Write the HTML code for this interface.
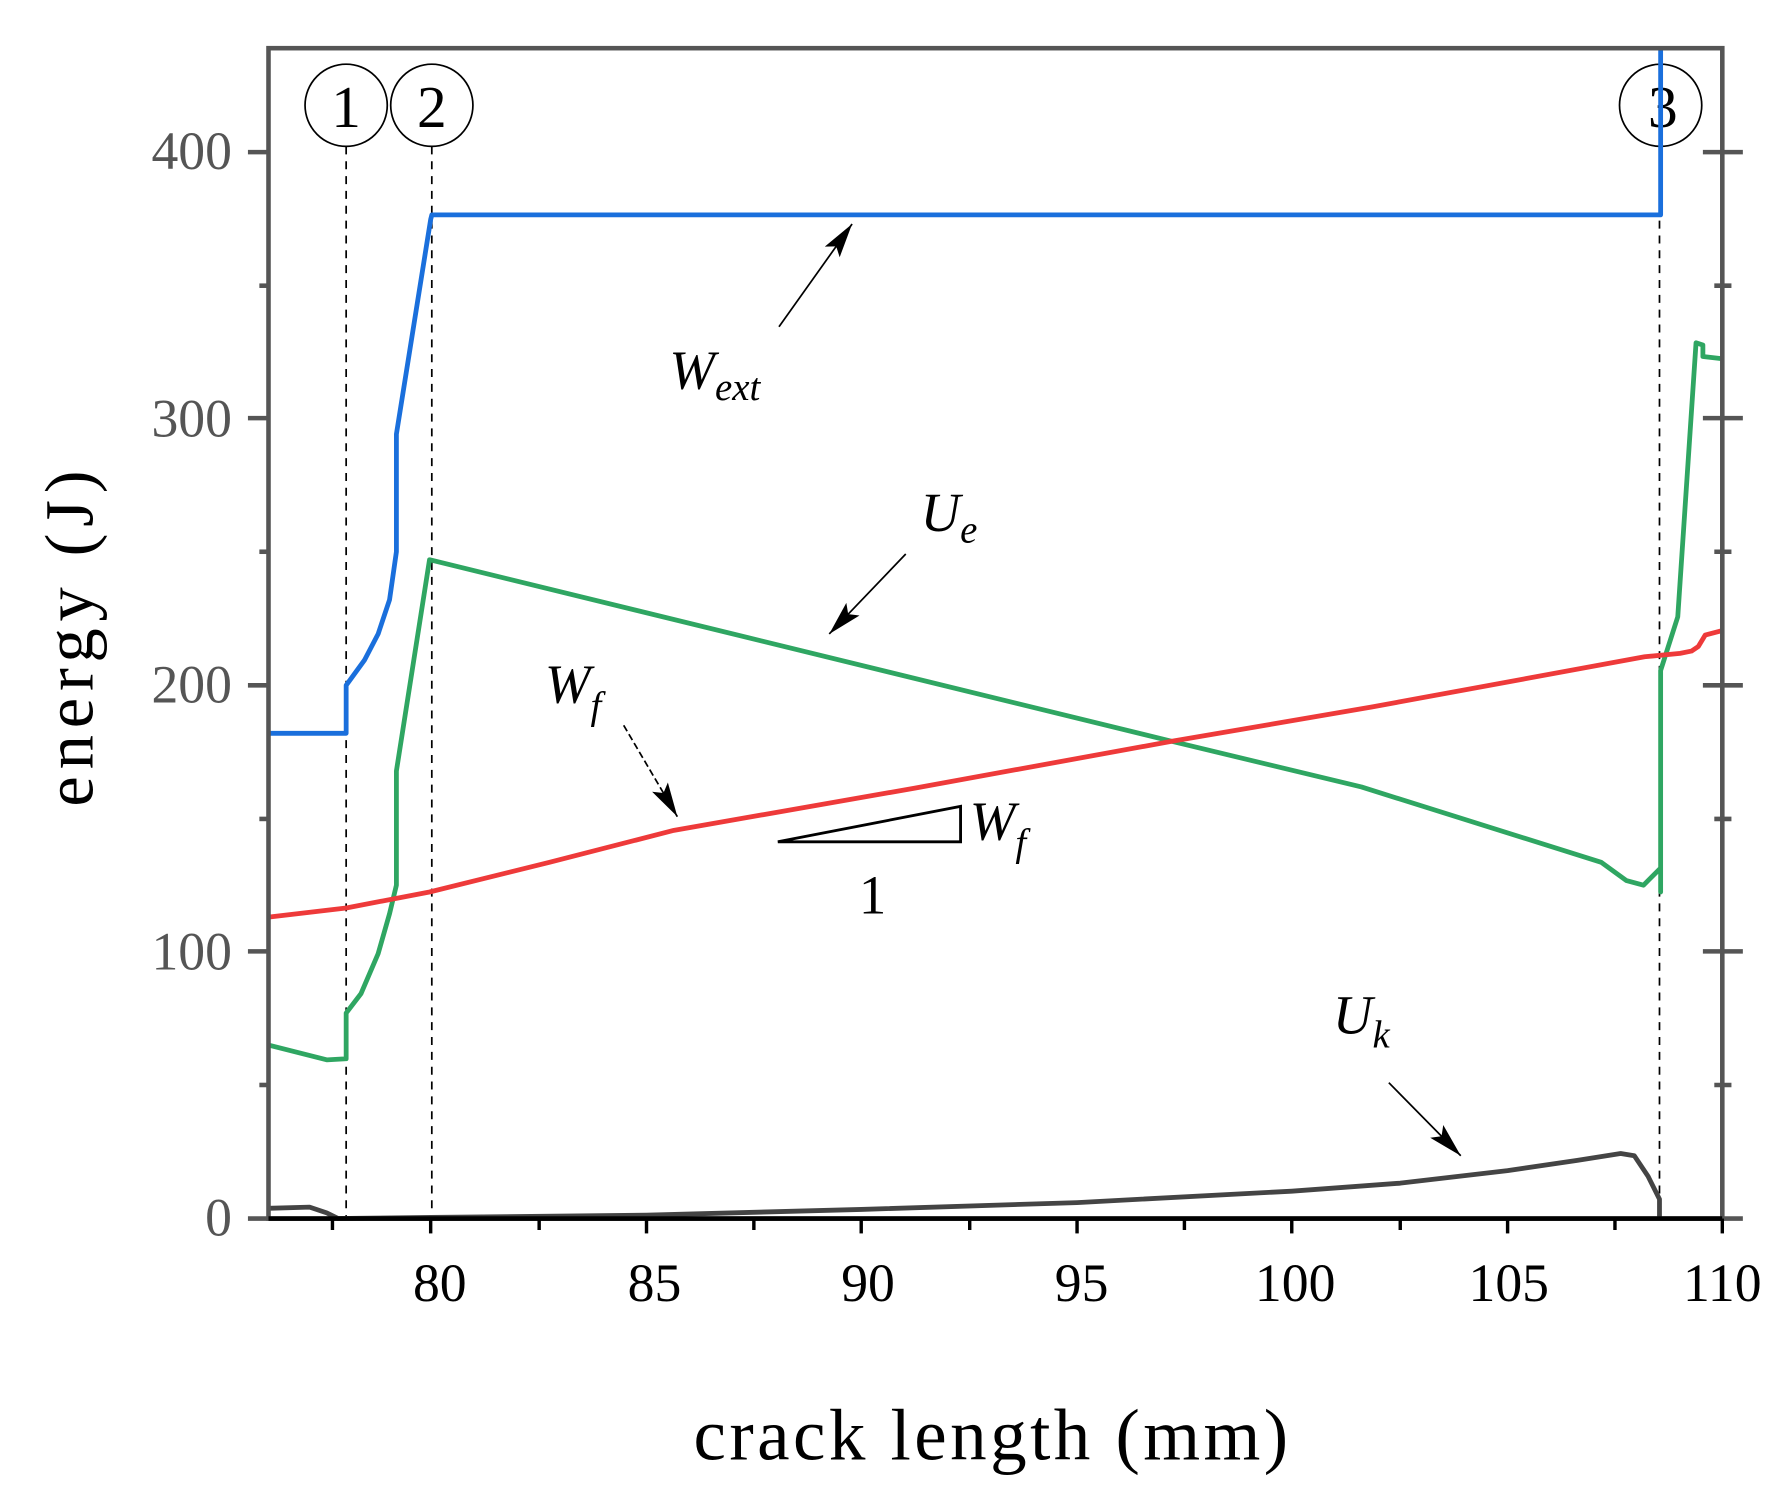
<!DOCTYPE html>
<html><head><meta charset="utf-8"><style>
html,body{margin:0;padding:0;background:#fff;}
svg{display:block;}
text{font-family:"Liberation Serif",serif;}
</style></head><body>
<svg width="1790" height="1502" viewBox="0 0 1560 1309" xmlns="http://www.w3.org/2000/svg">
<defs>
<marker id="ah2" viewBox="0 0 30 20" refX="30" refY="10" markerWidth="30" markerHeight="20" markerUnits="userSpaceOnUse" orient="auto">
<path d="M0,2 L30,10 L0,18 L6,10 z" fill="#000"/></marker>
</defs>
<g transform="translate(1.1,0.2) scale(0.99529,0.99512)">
<g stroke="#000" stroke-width="1.5" stroke-dasharray="7,6" fill="none">
<line x1="302" y1="128" x2="302" y2="1067"/>
<line x1="377" y1="128" x2="377" y2="1067"/>
<line x1="1452" y1="128" x2="1452" y2="1067"/>
</g>
<g fill="#fff" stroke="#000" stroke-width="1.5">
<ellipse cx="302" cy="92" rx="36" ry="36"/>
<ellipse cx="377" cy="92" rx="36" ry="36"/>
<ellipse cx="1453" cy="92" rx="36" ry="36"/>
</g>
<g font-size="52" text-anchor="middle" fill="#000">
<text x="302" y="111">1</text><text x="377" y="111">2</text><text x="1455" y="111">3</text>
</g>
<g fill="none" stroke-width="4.2" stroke-linejoin="round">
<polyline stroke="#1a6fdc" points="234,642 302,642 302,600 318,578 330,555 340,525 346,483 346,380 376,192 377,188 1453,188 1453,42"/>
<polyline stroke="#2fa662" points="234,915 285,928 302,927 302,887 315,870 330,835 340,800 346,775 346,675 375,490 1025,649 1191,689 1401,755 1423,771 1438,775 1453,760 1453,781 1453,587 1468,540 1484,300 1490,302 1490,312 1507,314"/>
<polyline stroke="#ee3a3a" points="234,803 302,795 375,781 480,755 589,727 800,690 1025,649 1200,619 1439,575 1470,572 1480,570 1486,566 1492,556 1507,552"/>
<polyline stroke="#444" points="234,1058 270,1057 285,1062 295,1067 376,1066 565,1064 753,1059 942,1053 1130,1043 1225,1036 1319,1025 1380,1016 1418,1010 1430,1012 1442,1030 1452,1050 1452,1067"/>
</g>
<rect x="234" y="42" width="1273" height="1025" fill="none" stroke="#555" stroke-width="4"/>
<line x1="234" y1="1067" x2="1507" y2="1067" stroke="#000" stroke-width="4"/>
<g stroke="#555" stroke-width="4">
<line x1="216" y1="1067" x2="234" y2="1067"/><line x1="216" y1="833" x2="234" y2="833"/><line x1="216" y1="600" x2="234" y2="600"/><line x1="216" y1="366" x2="234" y2="366"/><line x1="216" y1="133" x2="234" y2="133"/>
<line x1="226" y1="950" x2="234" y2="950"/><line x1="226" y1="717" x2="234" y2="717"/><line x1="226" y1="483" x2="234" y2="483"/><line x1="226" y1="250" x2="234" y2="250"/>
<line x1="1490" y1="833" x2="1525" y2="833"/><line x1="1490" y1="600" x2="1525" y2="600"/><line x1="1490" y1="366" x2="1525" y2="366"/><line x1="1490" y1="133" x2="1525" y2="133"/><line x1="1507" y1="1067" x2="1525" y2="1067"/>
<line x1="1500" y1="950" x2="1515" y2="950"/><line x1="1500" y1="717" x2="1515" y2="717"/><line x1="1500" y1="483" x2="1515" y2="483"/><line x1="1500" y1="250" x2="1515" y2="250"/>
</g>
<g stroke="#000" stroke-width="3">
<line x1="290" y1="1067" x2="290" y2="1077"/><line x1="376" y1="1067" x2="376" y2="1080"/><line x1="471" y1="1067" x2="471" y2="1077"/><line x1="565" y1="1067" x2="565" y2="1080"/><line x1="659" y1="1067" x2="659" y2="1077"/><line x1="753" y1="1067" x2="753" y2="1080"/><line x1="848" y1="1067" x2="848" y2="1077"/><line x1="942" y1="1067" x2="942" y2="1080"/><line x1="1036" y1="1067" x2="1036" y2="1077"/><line x1="1130" y1="1067" x2="1130" y2="1080"/><line x1="1225" y1="1067" x2="1225" y2="1077"/><line x1="1319" y1="1067" x2="1319" y2="1080"/><line x1="1413" y1="1067" x2="1413" y2="1077"/><line x1="1507" y1="1067" x2="1507" y2="1080"/>
</g>
<g font-size="47" fill="#555" text-anchor="end">
<text x="202" y="1082">0</text><text x="202" y="849">100</text><text x="202" y="615">200</text><text x="202" y="382">300</text><text x="202" y="148">400</text>
</g>
<g font-size="47" fill="#000" text-anchor="middle">
<text x="384" y="1139">80</text><text x="572" y="1139">85</text><text x="759" y="1139">90</text><text x="946" y="1139">95</text><text x="1133" y="1139">100</text><text x="1320" y="1139">105</text><text x="1507" y="1139">110</text>
</g>
<text x="868" y="1278" font-size="64" letter-spacing="3" text-anchor="middle">crack length (mm)</text>
<text transform="translate(80,556) rotate(-90)" font-size="60" letter-spacing="6" text-anchor="middle">energy (J)</text>
<g stroke="#000" stroke-width="1.5" fill="none">
<line x1="681" y1="286" x2="745" y2="196" marker-end="url(#ah2)"/>
<line x1="792" y1="485" x2="725" y2="555" marker-end="url(#ah2)"/>
<line x1="545" y1="635" x2="592" y2="715" stroke-dasharray="6,3" marker-end="url(#ah2)"/>
<line x1="1215" y1="948" x2="1278" y2="1012" marker-end="url(#ah2)"/>
</g>
<polygon points="680,737 840,706 840,737" fill="none" stroke="#000" stroke-width="2.5"/>
<g font-size="48" font-style="italic" fill="#000">
<text x="585" y="340">W<tspan font-size="34" dy="10">ext</tspan></text>
<text x="805" y="465">U<tspan font-size="34" dy="10">e</tspan></text>
<text x="476" y="615">W<tspan font-size="34" dy="14">f</tspan></text>
<text x="848" y="735">W<tspan font-size="34" dy="14">f</tspan></text>
<text x="1166" y="905">U<tspan font-size="34" dy="12">k</tspan></text>
</g>
<text x="763" y="800" font-size="48" text-anchor="middle">1</text>
</g>
</svg>
</body></html>
